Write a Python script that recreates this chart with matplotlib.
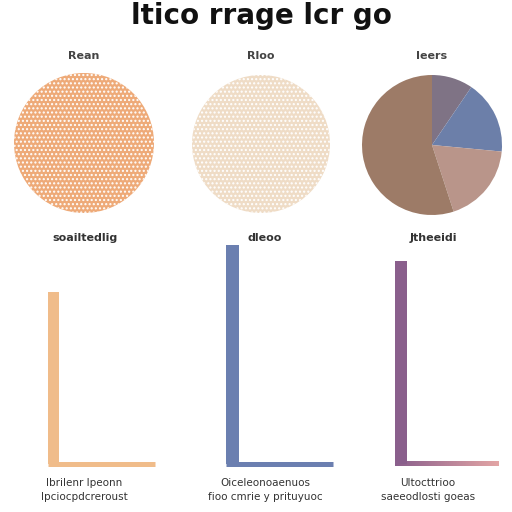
import matplotlib.pyplot as plt
from matplotlib.colors import LinearSegmentedColormap
import numpy as np

# texts (garbled as in the reference)
title = "ltico rrage lcr go"
top_titles = ["Rean", "Rloo", "Ieers"]
bottom_titles = ["soailtedlig", "dleoo", "Jtheeidi"]
captions = [
    "Ibrilenr Ipeonn\nIpciocpdcreroust",
    "Oiceleonoaenuos\nfioo cmrie y prituyuoc",
    "Ultocttrioo\nsaeeodlosti goeas",
]

# top row: two single circles + one pie
circle_values = [1, 1]
circle_colors = ["#eeaa78", "#efdcc6"]
pie_values = [9.5, 17, 18.5, 55]
pie_colors = ["#7f7385", "#6c7fa9", "#b9958a", "#9d7b67"]

# bottom row: one bar each
bar_values = [172, 219, 203]
bar_colors = ["#f0bc8a", "#6b7fb0", "#8a5f8c"]

fig = plt.figure(figsize=(5.12, 5.12), dpi=100)


def px_axes(x0, y0, x1, y1):
    return fig.add_axes([x0 / 512, 1 - y1 / 512, (x1 - x0) / 512, (y1 - y0) / 512])


fig.text(261 / 512, 1 - 24 / 512, title, ha="center", va="baseline",
         fontsize=20, fontweight="bold", color="#111111")

# circles
centers = [(84, 143, 70), (261, 144, 69), (432, 145, 70)]
for i, (cx, cy, r) in enumerate(centers):
    ax = px_axes(cx - r, cy - r, cx + r, cy + r)
    if i < 2:
        ax.pie([circle_values[i]], colors=[circle_colors[i]], hatch="....",
               wedgeprops=dict(edgecolor="white", linewidth=0))
    else:
        ax.pie(pie_values, colors=pie_colors, startangle=90, counterclock=False,
               wedgeprops=dict(linewidth=0))
    ax.set_xlim(-1, 1)
    ax.set_ylim(-1, 1)
    fig.text(cx / 512, 1 - 56 / 512, top_titles[i], ha="center", va="center",
             fontsize=8, fontweight="bold", color="#444444")

# bars
bar_boxes = [(48, 155, 11), (226, 333, 13), (395, 499, 12)]
title_x = [85, 265, 433]
for i, (x0, x1, bw) in enumerate(bar_boxes):
    ax = px_axes(x0, 240, x1, 463.5)
    ax.bar([0], [bar_values[i]], width=bw / (x1 - x0), align="edge",
           color=bar_colors[i])
    for s in ["top", "right", "left"]:
        ax.spines[s].set_visible(False)
    if i < 2:
        ax.spines["bottom"].set_color(bar_colors[i])
        ax.spines["bottom"].set_linewidth(3.6)
        ax.spines["bottom"].set_capstyle("butt")
    else:
        ax.spines["bottom"].set_visible(False)
        cmap = LinearSegmentedColormap.from_list("g", ["#8a5f8c", "#e3a5a5"])
        ax.imshow(np.linspace(0, 1, 100).reshape(1, -1), cmap=cmap, aspect="auto",
                  extent=[0, 1, -0.011, 0.011], transform=ax.transAxes, clip_on=False)
    ax.set_xlim(0, 1)
    ax.set_ylim(0, 224)
    ax.set_xticks([])
    ax.set_yticks([])
    ax.patch.set_alpha(0)
    fig.text(title_x[i] / 512, 1 - 238 / 512, bottom_titles[i], ha="center",
             va="center", fontsize=8, fontweight="bold", color="#333333")

cap_x = [84, 265, 428]
for i, c in enumerate(captions):
    fig.text(cap_x[i] / 512, 1 - 478 / 512, c, ha="center", va="top",
             fontsize=7.5, color="#333333", linespacing=1.5)

fig.savefig("out.png", dpi=100, facecolor="white")
